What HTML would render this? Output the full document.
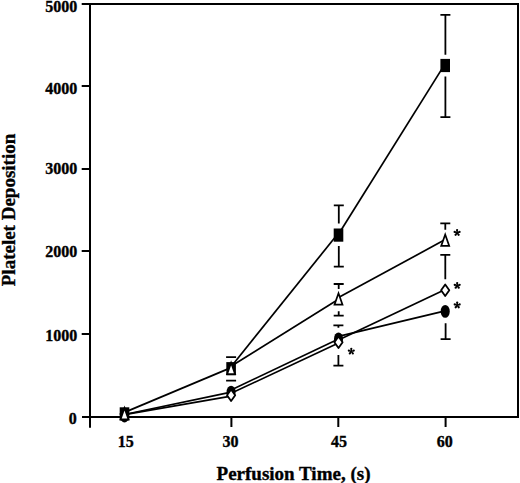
<!DOCTYPE html><html><head><meta charset="utf-8"><style>html,body{margin:0;padding:0;background:#fff;overflow:hidden}svg{display:block}</style></head><body>
<svg width="520" height="483" viewBox="0 0 520 483">
<rect width="520" height="483" fill="#fff"/>
<path d="M81.7 4H518.5 M518 3V418 M82 417H518.5 M90 3V427.7 M81.7 86H90 M81.7 169H90 M81.7 251H90 M81.7 334H90 M231.4 417V427 M338.3 417V427 M445.6 417V427" stroke="#000" stroke-width="2" fill="none"/>
<g font-family="Liberation Serif" font-weight="bold" font-size="16" text-anchor="end" fill="#000" stroke="#000" stroke-width="0.35">
<text x="77.3" y="11.6">5000</text>
<text x="77.3" y="93.8">4000</text>
<text x="77.3" y="174.4">3000</text>
<text x="77.3" y="256.9">2000</text>
<text x="77.3" y="340.7">1000</text>
<text x="76.7" y="424.1">0</text>
</g>
<g font-family="Liberation Serif" font-weight="bold" font-size="16" text-anchor="middle" fill="#000" stroke="#000" stroke-width="0.35">
<text x="125.65" y="447.0">15</text>
<text x="230.45" y="447.0">30</text>
<text x="339.05" y="447.0">45</text>
<text x="444.65" y="447.0">60</text>
</g>
<text x="293.5" y="479.6" font-family="Liberation Serif" font-weight="bold" font-size="19" text-anchor="middle" stroke="#000" stroke-width="0.35">Perfusion Time, (s)</text>
<text transform="translate(15.3 210) rotate(-90)" font-family="Liberation Serif" font-weight="bold" font-size="19" text-anchor="middle" stroke="#000" stroke-width="0.35">Platelet Deposition</text>
<path d="M440.4 14.8H450.4 M445.4 14.8V54.7 M445.4 76.4V117.2 M440.4 117.2H450.4 M333.8 205.3H343.8 M338.8 205.3V223.6 M338.8 246.1V266.6 M333.8 266.6H343.8 M226.1 357.1H236.1 M226.1 380.7H236.1 M333.7 284.0H343.7 M338.7 284.0V289.0 M338.7 311.2V315.7 M333.7 315.7H343.7 M333.4 325.4H343.4 M338.4 325.4V327.7 M338.4 355.0V365.6 M333.4 365.6H343.4 M440.3 223.3H450.3 M445.3 223.3V229.7 M440.3 254.8H450.3 M445.3 254.8V279.2 M445.6 323.2V339.2 M440.6 339.2H450.6" stroke="#000" stroke-width="1.8" fill="none"/>
<g stroke="#000" stroke-width="1.7" fill="none" stroke-linecap="butt">
<line x1="124.5" y1="412.4" x2="231.1" y2="367.6"/>
<line x1="231.1" y1="366.7" x2="338.5" y2="233.0"/>
<line x1="338.5" y1="234.3" x2="445.2" y2="63.6"/>
<line x1="231.1" y1="366.2" x2="338.5" y2="299.3"/>
<line x1="338.5" y1="297.6" x2="445.2" y2="239.6"/>
<line x1="124.5" y1="414.5" x2="231.1" y2="392.1"/>
<line x1="231.1" y1="390.0" x2="338.5" y2="339.0"/>
<line x1="338.5" y1="336.3" x2="445.2" y2="310.8"/>
<line x1="124.5" y1="414.6" x2="231.1" y2="396.1"/>
<line x1="231.1" y1="393.3" x2="338.5" y2="343.0"/>
<line x1="338.5" y1="340.0" x2="445.2" y2="289.6"/>
</g>
<ellipse cx="124.50" cy="416.00" rx="4.55" ry="6.4" fill="#000"/>
<ellipse cx="231.10" cy="392.10" rx="4.55" ry="6.4" fill="#000"/>
<ellipse cx="338.50" cy="338.90" rx="4.55" ry="6.4" fill="#000"/>
<ellipse cx="445.20" cy="311.40" rx="4.55" ry="6.4" fill="#000"/>
<path d="M124.50 408.20L128.60 414.00L124.50 419.80L120.40 414.00Z" fill="#fff" stroke="#000" stroke-width="1.8" stroke-linejoin="round"/>
<path d="M231.10 389.40L235.20 395.20L231.10 401.00L227.00 395.20Z" fill="#fff" stroke="#000" stroke-width="1.8" stroke-linejoin="round"/>
<path d="M338.50 336.40L342.60 342.20L338.50 348.00L334.40 342.20Z" fill="#fff" stroke="#000" stroke-width="1.8" stroke-linejoin="round"/>
<path d="M445.20 284.50L449.30 290.30L445.20 296.10L441.10 290.30Z" fill="#fff" stroke="#000" stroke-width="1.8" stroke-linejoin="round"/>
<rect x="119.70" y="407.30" width="9.6" height="13.2" fill="#000"/>
<rect x="226.30" y="362.10" width="9.6" height="13.2" fill="#000"/>
<rect x="333.70" y="228.50" width="9.6" height="13.2" fill="#000"/>
<rect x="440.40" y="58.90" width="9.6" height="13.2" fill="#000"/>
<path d="M124.50 408.00L128.50 419.40H120.50Z" fill="#fff" stroke="#000" stroke-width="1.7" stroke-linejoin="miter"/>
<path d="M231.10 362.80L235.10 374.20H227.10Z" fill="#fff" stroke="#000" stroke-width="1.7" stroke-linejoin="miter"/>
<path d="M338.50 293.20L342.50 304.60H334.50Z" fill="#fff" stroke="#000" stroke-width="1.7" stroke-linejoin="miter"/>
<path d="M445.20 234.50L449.20 245.90H441.20Z" fill="#fff" stroke="#000" stroke-width="1.7" stroke-linejoin="miter"/>
<line x1="351.30" y1="351.40" x2="351.30" y2="348.80" stroke="#000" stroke-width="1.5"/><circle cx="351.30" cy="348.80" r="1.1" fill="#000"/><line x1="351.30" y1="351.40" x2="353.77" y2="350.60" stroke="#000" stroke-width="1.5"/><circle cx="353.77" cy="350.60" r="1.1" fill="#000"/><line x1="351.30" y1="351.40" x2="352.83" y2="353.50" stroke="#000" stroke-width="1.5"/><circle cx="352.83" cy="353.50" r="1.1" fill="#000"/><line x1="351.30" y1="351.40" x2="349.77" y2="353.50" stroke="#000" stroke-width="1.5"/><circle cx="349.77" cy="353.50" r="1.1" fill="#000"/><line x1="351.30" y1="351.40" x2="348.83" y2="350.60" stroke="#000" stroke-width="1.5"/><circle cx="348.83" cy="350.60" r="1.1" fill="#000"/>
<line x1="457.10" y1="232.70" x2="457.10" y2="230.10" stroke="#000" stroke-width="1.5"/><circle cx="457.10" cy="230.10" r="1.1" fill="#000"/><line x1="457.10" y1="232.70" x2="459.57" y2="231.90" stroke="#000" stroke-width="1.5"/><circle cx="459.57" cy="231.90" r="1.1" fill="#000"/><line x1="457.10" y1="232.70" x2="458.63" y2="234.80" stroke="#000" stroke-width="1.5"/><circle cx="458.63" cy="234.80" r="1.1" fill="#000"/><line x1="457.10" y1="232.70" x2="455.57" y2="234.80" stroke="#000" stroke-width="1.5"/><circle cx="455.57" cy="234.80" r="1.1" fill="#000"/><line x1="457.10" y1="232.70" x2="454.63" y2="231.90" stroke="#000" stroke-width="1.5"/><circle cx="454.63" cy="231.90" r="1.1" fill="#000"/>
<line x1="457.20" y1="285.60" x2="457.20" y2="283.00" stroke="#000" stroke-width="1.5"/><circle cx="457.20" cy="283.00" r="1.1" fill="#000"/><line x1="457.20" y1="285.60" x2="459.67" y2="284.80" stroke="#000" stroke-width="1.5"/><circle cx="459.67" cy="284.80" r="1.1" fill="#000"/><line x1="457.20" y1="285.60" x2="458.73" y2="287.70" stroke="#000" stroke-width="1.5"/><circle cx="458.73" cy="287.70" r="1.1" fill="#000"/><line x1="457.20" y1="285.60" x2="455.67" y2="287.70" stroke="#000" stroke-width="1.5"/><circle cx="455.67" cy="287.70" r="1.1" fill="#000"/><line x1="457.20" y1="285.60" x2="454.73" y2="284.80" stroke="#000" stroke-width="1.5"/><circle cx="454.73" cy="284.80" r="1.1" fill="#000"/>
<line x1="457.20" y1="305.20" x2="457.20" y2="302.60" stroke="#000" stroke-width="1.5"/><circle cx="457.20" cy="302.60" r="1.1" fill="#000"/><line x1="457.20" y1="305.20" x2="459.67" y2="304.40" stroke="#000" stroke-width="1.5"/><circle cx="459.67" cy="304.40" r="1.1" fill="#000"/><line x1="457.20" y1="305.20" x2="458.73" y2="307.30" stroke="#000" stroke-width="1.5"/><circle cx="458.73" cy="307.30" r="1.1" fill="#000"/><line x1="457.20" y1="305.20" x2="455.67" y2="307.30" stroke="#000" stroke-width="1.5"/><circle cx="455.67" cy="307.30" r="1.1" fill="#000"/><line x1="457.20" y1="305.20" x2="454.73" y2="304.40" stroke="#000" stroke-width="1.5"/><circle cx="454.73" cy="304.40" r="1.1" fill="#000"/>
</svg></body></html>
